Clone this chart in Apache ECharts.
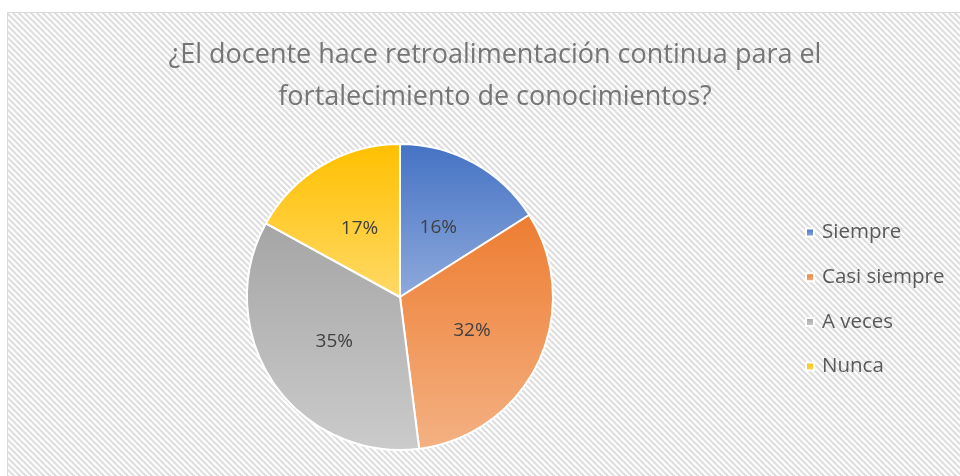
<!DOCTYPE html>
<html>
<head>
<meta charset="utf-8">
<script src="https://cdn.jsdelivr.net/npm/echarts@6/dist/echarts.min.js"></script>
<style>
html,body{margin:0;padding:0;background:#fff;}
#chart{width:960px;height:476px;}
</style>
</head>
<body>
<div id="chart"></div>
<script>
var titleText = '¿El docente hace retroalimentación continua para el\nfortalecimiento de conocimientos?';
var categories = ['Siempre', 'Casi siempre', 'A veces', 'Nunca'];
var values = [16, 32, 35, 17];
var topColors = ['#4472C4', '#ED7D31', '#A5A5A5', '#FFC000'];
var bottomColors = ['#8FAADC', '#F4B183', '#CBCBCB', '#FFD966'];

// diagonal stripe pattern
var pc = document.createElement('canvas');
pc.width = 6; pc.height = 6;
var ctx = pc.getContext('2d');
ctx.fillStyle = '#ffffff';
ctx.fillRect(0, 0, 6, 6);
ctx.strokeStyle = '#dedede';
ctx.lineWidth = 2.2;
for (var k = -2; k <= 2; k++) {
  ctx.beginPath();
  ctx.moveTo(k * 6 - 1, -1);
  ctx.lineTo(k * 6 + 7, 7);
  ctx.stroke();
}

var chart = echarts.init(document.getElementById('chart'));
var data = categories.map(function (c, i) {
  return {
    name: c,
    value: values[i],
    itemStyle: {
      color: {
        type: 'linear', x: 0, y: 0, x2: 0, y2: 1,
        colorStops: [{offset: 0, color: topColors[i]}, {offset: 1, color: bottomColors[i]}]
      }
    }
  };
});

chart.setOption({
  animation: false,
  graphic: [{
    type: 'rect',
    z: -10,
    shape: {x: 7.5, y: 12.5, width: 980, height: 500},
    style: {fill: {image: pc, repeat: 'repeat'}, stroke: '#d9d9d9', lineWidth: 1}
  }],
  title: {
    text: titleText,
    left: 490,
    top: 29,
    textAlign: 'center',
    textStyle: {
      fontFamily: 'Open Sans',
      fontSize: 27,
      fontWeight: 'normal',
      color: '#757575',
      lineHeight: 42
    }
  },
  legend: {
    orient: 'vertical',
    left: 805,
    top: 222,
    itemWidth: 8,
    itemHeight: 8,
    itemGap: 23.7,
    icon: 'rect',
    padding: 0,
    textStyle: {fontFamily: 'Open Sans', fontSize: 20.5, color: '#595959', padding: [0, 0, 0, 3]},
    data: categories
  },
  series: [{
    type: 'pie',
    center: [400, 297],
    radius: 153,
    startAngle: 90,
    clockwise: true,
    itemStyle: {borderColor: '#ffffff', borderWidth: 2},
    label: {
      show: true,
      position: 'inside',
      formatter: '{d}%',
      fontFamily: 'Open Sans',
      fontSize: 19,
      color: '#404040'
    },
    labelLine: {show: false},
    data: data
  }]
});
</script>
</body>
</html>
